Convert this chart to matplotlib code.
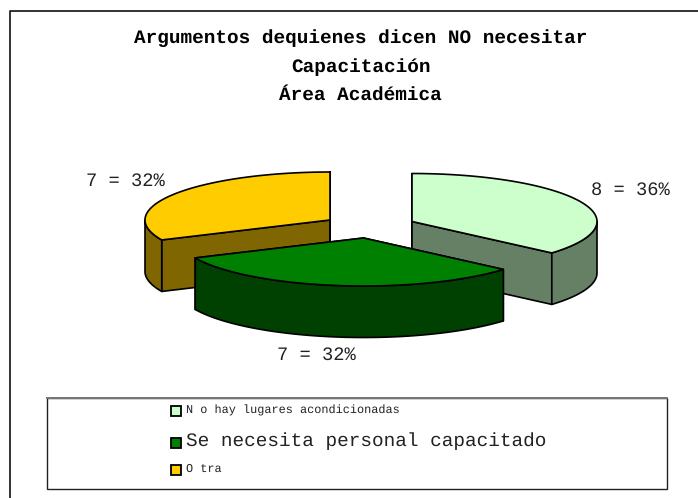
## Pie 3D: argumentos de quienes dicen NO necesitar capacitacion

import numpy as np
import matplotlib
matplotlib.use('Agg')
import matplotlib.pyplot as plt
from matplotlib.patches import Polygon, Rectangle

title_lines = ['Argumentos dequienes dicen NO necesitar', 'Capacitación', 'Área Académica']
categories = ['N o hay lugares acondicionadas', 'Se necesita personal capacitado', 'O tra']
values = [8, 7, 7]
value_labels = ['8 = 36%', '7 = 32%', '7 = 32%']
colors = ['#CCFFCC', '#008000', '#FFCC00']

# layout en pixeles
centers = [(412, 221.5), (363.5, 238), (330, 220)]
rx, ry, depth = 185, 48, 51.5
MONO = 'Liberation Mono'

plt.rcParams['text.hinting'] = 'none'

fig = plt.figure(figsize=(6.98, 4.98), dpi=100)
ax = fig.add_axes([0, 0, 1, 1])
ax.set_xlim(0, 698)
ax.set_ylim(498, 0)
ax.axis('off')

# marco exterior (solo arriba e izquierda)
ax.plot([698, 9.5, 9.5], [11, 11, 498], color='#111111', lw=1.2)


def arc(cx, cy, t0, t1):
    t = np.radians(np.linspace(t0, t1, 100))
    return np.column_stack([cx + rx * np.cos(t), cy + ry * np.sin(t)])


def draw_slice(i, t0, t1):
    cx, cy = centers[i]
    side = tuple(c * 0.5 for c in matplotlib.colors.to_rgb(colors[i]))
    style = dict(ec='black', lw=1.2, joinstyle='round')
    # caras radiales
    for t in (t0, t1):
        p = arc(cx, cy, t, t)[0]
        face = [(cx, cy), p, p + (0, depth), (cx, cy + depth)]
        ax.add_patch(Polygon(face, fc=side, **style))
    # borde curvo visible
    a, b = max(t0, 0), min(t1, 180)
    if b > a:
        rim = arc(cx, cy, a, b)
        ax.add_patch(Polygon(np.vstack([rim, rim[::-1] + (0, depth)]), fc=side, **style))
    # cara superior
    top = np.vstack([[(cx, cy)], arc(cx, cy, t0, t1)])
    ax.add_patch(Polygon(top, fc=colors[i], **style))


# angulos desde arriba en sentido horario, a partir de los valores
edges = np.cumsum([0] + values) / sum(values) * 360 - 90
for i in (2, 0, 1):
    draw_slice(i, edges[i], edges[i + 1])

# titulo
for line, y in zip(title_lines, [38, 67, 95]):
    ax.text(360.5, y, line, family=MONO, weight='bold', fontsize=13.95, ha='center', va='center')

# etiquetas
for label, (x, y) in zip(value_labels, [(630.5, 190), (316.5, 355), (125.5, 181)]):
    ax.text(x, y, label, family=MONO, fontsize=13.5, color='#222222', ha='center', va='center')

# leyenda
ax.add_patch(Rectangle((46.5, 397.5), 620, 91.5, fc='white', ec='#222222', lw=1))
ax.plot([46.5, 666.5], [397.5, 397.5], color='#777777', lw=1.4)
legend_y = [411, 443, 469.5]
for i, y in enumerate(legend_y):
    ax.add_patch(Rectangle((171, y - 5), 10, 10, fc=colors[i], ec='black', lw=1.3))
ax.text(186, 410, categories[0], family=MONO, fontsize=8.6, color='#222222', va='center')
ax.text(186, 441, categories[1], family=MONO, fontsize=13.95, color='#222222', va='center')
ax.text(186, 468.5, categories[2], family=MONO, fontsize=8.6, color='#222222', va='center')

plt.savefig('out.png', dpi=100)
plt.close()
